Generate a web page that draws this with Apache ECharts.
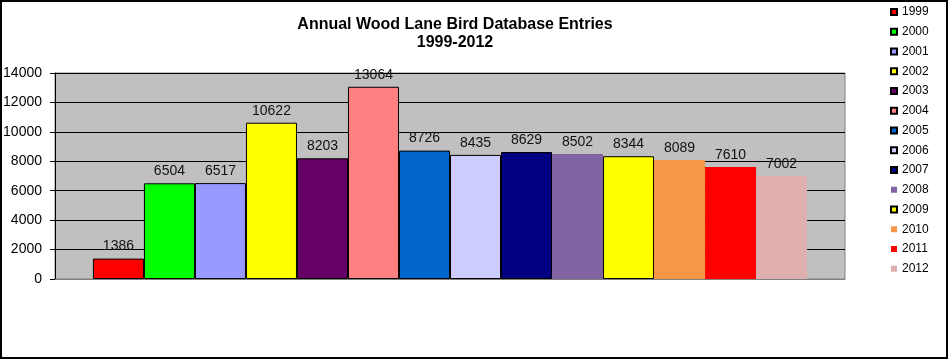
<!DOCTYPE html>
<html>
<head>
<meta charset="utf-8">
<script src="https://cdn.jsdelivr.net/npm/echarts@6/dist/echarts.min.js"></script>
<style>
html,body{margin:0;padding:0;background:#fff;}
#chart{width:949px;height:360px;}
</style>
</head>
<body>
<div id="chart"></div>
<script>
const years = ['1999','2000','2001','2002','2003','2004','2005','2006','2007','2008','2009','2010','2011','2012'];
const entries = [1386, 6504, 6517, 10622, 8203, 13064, 8726, 8435, 8629, 8502, 8344, 8089, 7610, 7002];
const colors = ['#FF0000','#00FF00','#9999FF','#FFFF00','#660066','#FF8080','#0066CC','#CCCCFF','#000080','#8064A2','#FFFF00','#F79646','#FF0000','#DFAEAE'];
const bordered = [true,true,true,true,true,true,true,true,true,false,true,false,false,false];
const yTicks = [0, 2000, 4000, 6000, 8000, 10000, 12000, 14000];

const FONT = 'Liberation Sans, Arial, sans-serif';
const chart = echarts.init(document.getElementById('chart'), null, {renderer:'canvas'});

const series = years.map((y, i) => ({
  name: y,
  type: 'bar',
  data: [entries[i]],
  barGap: '0%',
  barCategoryGap: '9.6%',
  itemStyle: {
    color: colors[i],
    borderColor: bordered[i] ? '#000' : colors[i],
    borderWidth: bordered[i] ? 1 : 0
  },
  label: {
    show: true,
    position: 'top',
    distance: 5,
    color: '#111',
    fontFamily: FONT,
    fontSize: 14
  }
}));

chart.setOption({
  animation: false,
  backgroundColor: '#fff',
  title: {
    text: 'Annual Wood Lane Bird Database Entries\n1999-2012',
    left: 450,
    textAlign: 'center',
    top: 11,
    padding: [5, 5],
    textStyle: {fontFamily: FONT, fontSize: 16, fontWeight: 'bold', color: '#000', lineHeight: 18}
  },
  legend: {
    orient: 'vertical',
    left: 890,
    top: 6,
    padding: 0,
    itemWidth: 6,
    itemHeight: 6,
    itemGap: 7.75,
    icon: 'rect',
    data: years,
    textStyle: {fontFamily: FONT, fontSize: 12, color: '#000', lineHeight: 12, padding: 0}
  },
  grid: {left: 55, top: 73, right: 104, bottom: 81, containLabel: false, outerBoundsMode: 'none', show: true, backgroundColor: '#C0C0C0', borderColor: '#808080', borderWidth: 1},
  xAxis: {
    type: 'category',
    data: [''],
    axisLine: {show: true, lineStyle: {color: '#808080'}},
    axisTick: {show: false},
    axisLabel: {show: false}
  },
  yAxis: {
    type: 'value',
    min: yTicks[0],
    max: yTicks[yTicks.length - 1],
    interval: 2000,
    axisLine: {show: true, lineStyle: {color: '#000'}},
    axisTick: {show: true, length: 5, lineStyle: {color: '#000'}},
    axisLabel: {margin: 13, color: '#000', fontFamily: FONT, fontSize: 14, formatter: v => String(v)},
    splitLine: {show: true, lineStyle: {color: '#000', width: 1}}
  },
  graphic: [{
    type: 'rect',
    silent: true,
    z: 100,
    shape: {x: 1, y: 1, width: 946, height: 357},
    style: {fill: 'none', stroke: '#000', lineWidth: 2}
  }],
  series: series
});
</script>
</body>
</html>
